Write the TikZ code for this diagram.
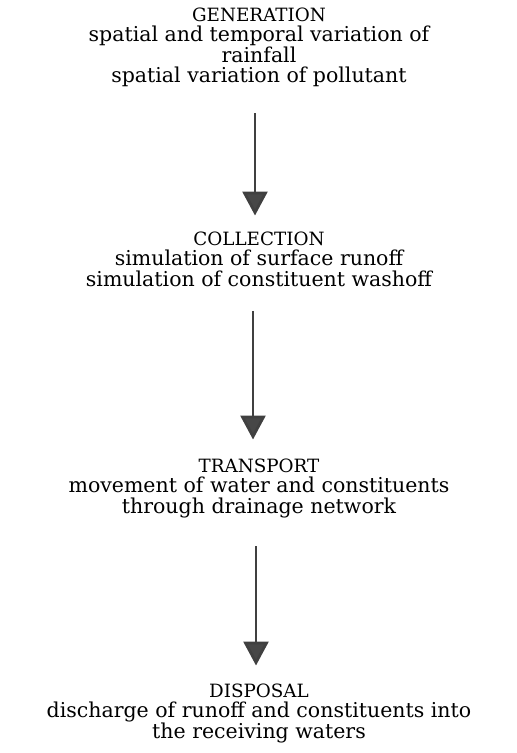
\documentclass[tikz,border=0pt]{standalone}
\usepackage{fontspec}
\setmainfont{DejaVu Serif}
\usetikzlibrary{arrows.meta}
\newcommand\stagehead[1]{{\fontsize{18.3}{20.5}\selectfont #1}}
\begin{document}
\begin{tikzpicture}[x=1pt,y=1pt,
  stage/.style={anchor=north,align=center,inner sep=0pt,
    font=\fontsize{20.5}{20.5}\selectfont},
  flow/.style={draw=black!75,line width=2.8pt,
    -{Triangle[width=25pt,length=24pt,fill=black!72]}}]
\useasboundingbox (0,0) rectangle (517,-753);
\node[stage] (gen) at (259,-7.5) {\stagehead{GENERATION}\\spatial and temporal variation of\\rainfall\\spatial variation of pollutant};
\node[stage] (col) at (259,-231.5) {\stagehead{COLLECTION}\\simulation of surface runoff\\simulation of constituent washoff};
\node[stage] (tra) at (259,-458.5) {\stagehead{TRANSPORT}\\movement of water and constituents\\through drainage network};
\node[stage] (dis) at (259,-683.5) {\stagehead{DISPOSAL}\\discharge of runoff and constituents into\\the receiving waters};
\draw[flow] ([xshift=-4pt,yshift=-26pt]gen.south) -- ([xshift=-4pt,yshift=16pt]col.north);
\draw[flow] ([xshift=-6pt,yshift=-24pt]col.south) -- ([xshift=-6pt,yshift=19pt]tra.north);
\draw[flow] ([xshift=-3pt,yshift=-28pt]tra.south) -- ([xshift=-3pt,yshift=18pt]dis.north);
\end{tikzpicture}
\end{document}
